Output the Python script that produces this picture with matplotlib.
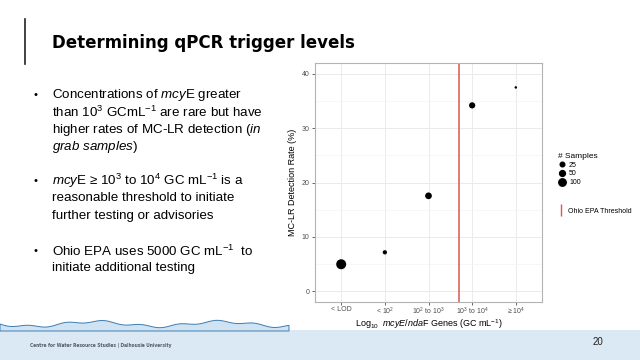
import matplotlib
matplotlib.use('Agg')
import matplotlib.pyplot as plt
from matplotlib import font_manager as fm
from matplotlib.lines import Line2D
from matplotlib.patches import Rectangle, Polygon
import numpy as np

plt.rcParams['font.family'] = ['Liberation Sans', 'DejaVu Sans']
plt.rcParams['mathtext.fontset'] = 'custom'
plt.rcParams['mathtext.rm'] = 'Liberation Sans'
plt.rcParams['mathtext.it'] = 'Liberation Sans:italic'
plt.rcParams['mathtext.bf'] = 'Liberation Sans:bold'

# data
categories = ['< LOD', '< 10$^{2}$', '10$^{2}$ to 10$^{3}$', '10$^{3}$ to 10$^{4}$', '\u2265 10$^{4}$']
detect_rate = [4.95, 7.15, 17.55, 34.2, 37.5]
n_samples = [220, 20, 75, 60, 8]
legend_sizes = [25, 50, 100]
ohio_epa = np.log10(5000)  # sits between category 3 and 4

grey_txt = '#4d4d4d'
epa_red = '#d9574f'
band_blue = '#dbe9f5'


def size_px(n):
    # ggplot-like area scale (sqrt rescale)
    lo, hi = min(n_samples), max(n_samples)
    return 2.5 + 7.5 * np.sqrt((np.asarray(n, dtype=float) - lo) / (hi - lo))


# look for a condensed bold face for the title, if any is installed
cond = [f for f in fm.fontManager.ttflist
        if ('Narrow' in f.name or 'Condensed' in f.name or f.stretch in ('condensed', 'semi-condensed'))
        and f.weight in ('bold', 700, 'heavy', 800)]
if cond:
    title_fp = fm.FontProperties(fname=cond[0].fname, size=13.3)
    foot_fp = fm.FontProperties(fname=cond[0].fname, size=3.5)
else:
    title_fp = fm.FontProperties(family='Liberation Sans', weight='bold', size=12.5)
    foot_fp = fm.FontProperties(family='Liberation Sans', weight='bold', size=3.5)

fig = plt.figure(figsize=(6.4, 3.6), dpi=100)

# footer band + wave
fig.patches.append(Rectangle((0, 0), 1, 30 / 360, transform=fig.transFigure,
                             facecolor=band_blue, edgecolor='none', zorder=0))
wx = np.linspace(0, 289, 300)
wy = 324 + 2.5 * np.sin(wx / 20.0) + 1.2 * np.sin(wx / 6.0)
wave_pts = [(x / 640, 1 - y / 360) for x, y in zip(wx, wy)]
wave_pts += [(289 / 640, 1 - 331 / 360), (0, 1 - 331 / 360)]
fig.patches.append(Polygon(wave_pts, closed=True, transform=fig.transFigure,
                           facecolor='#cfe3f3', edgecolor='#3f7db3', linewidth=0.7, zorder=0))

# title
fig.add_artist(Line2D([25 / 640, 25 / 640], [1 - 19 / 360, 1 - 64 / 360],
                      transform=fig.transFigure, color='#222222', linewidth=1.2))
fig.text(52 / 640, 1 - 43 / 360, 'Determining qPCR trigger levels',
         fontproperties=title_fp, va='center', ha='left', color='black')

# bullets
bullets = [
    (95, ['Concentrations of $\\it{mcy}$E greater',
          'than 10$^{3}$ GCmL$^{-1}$ are rare but have',
          'higher rates of MC-LR detection ($\\it{in}$',
          '$\\it{grab\\ samples}$)']),
    (181, ['$\\it{mcy}$E \u2265 10$^{3}$ to 10$^{4}$ GC mL$^{-1}$ is a',
           'reasonable threshold to initiate',
           'further testing or advisories']),
    (251, ['Ohio EPA uses 5000 GC mL$^{-1}$  to',
           'initiate additional testing']),
]
for y0, lines in bullets:
    fig.text(33 / 640, 1 - y0 / 360, '\u2022', fontsize=8, va='center', ha='left')
    for k, ln in enumerate(lines):
        fig.text(52 / 640, 1 - (y0 + 17.3 * k) / 360, ln, fontsize=9.6,
                 va='center', ha='left', color='black')

# footer text
fig.text(30 / 640, 1 - 345 / 360, 'Centre for Water Resource Studies | Dalhousie University',
         fontproperties=foot_fp, color='#555b66', va='center', ha='left')
fig.text(593 / 640, 1 - 342 / 360, '20', fontsize=7, color='#222222', va='center', ha='left')

# chart
ax = fig.add_axes([315 / 640, 1 - 302 / 360, 227 / 640, 239 / 360])
xpos = np.arange(1, len(categories) + 1)
ax.scatter(xpos, detect_rate, s=(size_px(n_samples) * 0.72) ** 2,
           color='black', edgecolors='none', zorder=3)
ax.axvline(ohio_epa, color=epa_red, linewidth=1.1, zorder=2)

ax.set_xlim(0.4, 5.6)
ax.set_ylim(-2, 42)
ax.set_xticks(xpos)
ax.set_xticklabels(categories)
ax.set_yticks([0, 10, 20, 30, 40])
ax.set_yticks([5, 15, 25, 35], minor=True)
ax.grid(True, which='major', color='#ebebeb', linewidth=0.7)
ax.grid(True, which='minor', axis='y', color='#f4f4f4', linewidth=0.5)
ax.set_axisbelow(True)
for sp in ax.spines.values():
    sp.set_color('#b3b3b3')
    sp.set_linewidth(0.8)
ax.tick_params(which='major', length=2.5, width=0.6, color='#4d4d4d',
               labelsize=5, labelcolor=grey_txt, pad=1.5)
ax.tick_params(axis='x', pad=0.5)
ax.tick_params(which='minor', length=0)
ax.set_xlabel('Log$_{10}$  $\\it{mcyE/nda}$F Genes (GC mL$^{-1}$)', fontsize=6.5)
ax.xaxis.set_label_coords(0.5, -0.062)
ax.set_ylabel('MC-LR Detection Rate (%)', fontsize=6.5, labelpad=3)

# legends
handles = [Line2D([], [], linestyle='none', marker='o', color='black',
                  markersize=float(size_px(v)) * 0.72) for v in legend_sizes]
leg1 = fig.legend(handles, [str(v) for v in legend_sizes], title='# Samples',
                  loc='upper left', bbox_to_anchor=(553 / 640, 1 - 148 / 360),
                  frameon=False, fontsize=5, title_fontsize=6, handlelength=1.2,
                  handletextpad=0.4, labelspacing=0.25, borderpad=0.2)
leg1._legend_box.align = 'left'
epa_handle = Line2D([], [], linestyle='none', marker='|', color=epa_red,
                    markersize=9, markeredgewidth=1.0)
fig.legend([epa_handle], ['Ohio EPA Threshold'], loc='upper left',
           bbox_to_anchor=(553 / 640, 1 - 203 / 360), frameon=False, fontsize=5,
           handlelength=1.0, handletextpad=0.4, borderpad=0.2)

fig.savefig('out.png', dpi=100)
